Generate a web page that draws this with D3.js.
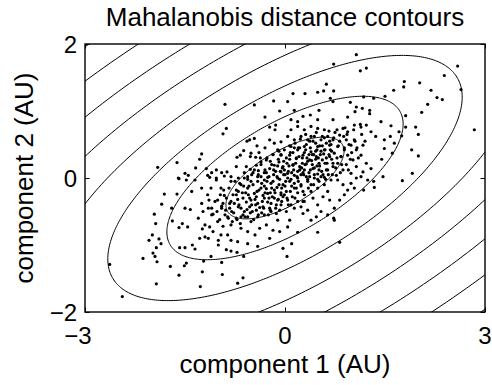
<!DOCTYPE html>
<html>
<head>
<meta charset="utf-8">
<script src="https://cdn.jsdelivr.net/npm/d3@7"></script>
<style>
  html, body { margin: 0; padding: 0; background: #fff; }
  svg { display: block; }
  text { font-family: "Liberation Sans", Arial, Helvetica, sans-serif; fill: #000; }
</style>
</head>
<body>
<svg id="chart" width="492" height="385"></svg>
<script>
// ---------- data ----------
const titleText = "Mahalanobis distance contours";
const xLabelText = "component 1 (AU)";
const yLabelText = "component 2 (AU)";
const xDomain = [-3, 3];
const yDomain = [-2, 2];
const xTicks = [-3, 0, 3];
const yTicks = [-2, 0, 2];
const contourLevels = [1, 2, 3, 4, 5, 6, 7, 8, 9, 10];
const centre = [0, 0];
const sigmaX = 0.886;
const sigmaY = 0.61;
const rho = 0.66;

const samplesUpperLeft = [[-0.90,1.10],[-0.46,1.09],[-0.17,1.15],[-0.08,1.00],[-0.30,0.91],[-0.23,0.76],[-0.14,0.79],[-0.15,0.72],[-0.88,0.74],[-0.93,0.66],[-0.06,0.54],[-0.57,0.55],[-0.53,0.57],[-0.46,0.59],[-0.42,0.48],[-0.30,0.45],[-0.62,0.41],[-0.67,0.34],[-0.72,0.31],[-0.52,0.32],[-0.51,0.37],[-0.44,0.31],[-0.39,0.38],[-1.25,0.36],[-1.28,0.28],[-1.62,0.23],[-1.91,0.16],[-1.34,0.15],[-1.50,0.07],[-1.45,0.04],[-1.59,-0.01],[-1.18,0.14],[-1.10,0.08],[-1.03,0.12],[-0.95,0.08],[-0.91,0.03],[-0.87,0.09],[-0.73,0.17],[-0.58,0.17],[-0.52,0.13],[-0.48,0.08],[-0.40,0.11],[-0.31,0.08],[-0.23,0.14],[-0.16,0.19],[-0.09,0.24],[-0.18,0.35],[-0.11,0.42],[-1.13,0.01],[-1.03,0.00],[-0.81,0.02],[-0.70,0.00],[-0.56,0.02],[-0.36,0.02],[-0.26,0.01],[-0.06,0.09],[-0.03,0.17],[-0.28,0.27],[-0.36,0.24],[-0.43,0.19],[-0.06,0.34],[-0.23,0.57],[-0.16,0.52]];

const samplesUpperRight = [[1.07,1.84],[0.73,1.70],[1.13,1.60],[1.22,1.64],[2.59,1.67],[2.39,1.53],[1.79,1.44],[1.78,1.36],[2.02,1.42],[0.62,1.40],[0.49,1.28],[0.58,1.30],[0.73,1.30],[0.12,1.26],[0.30,1.26],[1.63,1.31],[2.19,1.31],[2.64,1.32],[2.28,1.20],[2.36,1.17],[2.14,1.10],[2.05,0.98],[1.50,1.22],[1.33,1.19],[1.18,1.21],[0.98,1.13],[1.07,1.06],[1.16,1.04],[1.27,1.01],[1.05,0.99],[1.27,0.96],[0.72,1.14],[0.68,1.19],[0.04,1.14],[0.51,1.01],[0.27,0.92],[0.38,0.94],[0.14,1.01],[0.94,0.91],[0.72,0.87],[0.49,0.87],[0.19,0.84],[0.09,0.87],[1.44,0.84],[1.59,0.78],[1.81,0.93],[1.81,0.76],[1.96,0.76],[2.00,0.65],[2.84,0.72],[1.75,0.63],[1.71,0.69],[1.04,0.79],[1.14,0.76],[1.22,0.79],[1.29,0.69],[1.36,0.62],[1.49,0.57],[1.58,0.62],[1.64,0.52],[1.49,0.44],[1.61,0.37],[1.90,0.42],[2.00,0.33],[1.45,0.28],[1.91,0.07],[1.29,0.14],[1.22,0.22],[1.14,0.34],[1.07,0.42],[1.17,0.49],[1.04,0.57],[0.94,0.69],[0.87,0.74],[0.82,0.64],[0.92,0.57],[0.99,0.49],[0.94,0.34],[1.02,0.27],[1.07,0.17],[1.17,0.09],[0.99,0.07],[0.87,0.12],[0.79,0.22],[0.74,0.37],[0.79,0.47],[0.72,0.57],[0.64,0.62],[0.59,0.72],[0.49,0.74],[0.39,0.77],[0.29,0.72],[0.19,0.77],[0.09,0.72],[0.04,0.62],[0.14,0.57],[0.24,0.62],[0.34,0.57],[0.44,0.62],[0.54,0.57],[0.09,0.47],[0.19,0.42],[0.29,0.47],[0.39,0.39],[0.49,0.47],[0.59,0.42],[0.67,0.49],[0.07,0.34],[0.17,0.29],[0.27,0.34],[0.37,0.27],[0.47,0.32],[0.56,0.27],[0.67,0.32],[0.12,0.19],[0.22,0.17],[0.32,0.21],[0.42,0.14],[0.52,0.18],[0.62,0.12],[0.72,0.17],[0.04,0.07],[0.14,0.04],[0.27,0.08],[0.37,0.02],[0.49,0.06],[0.59,0.01],[0.77,0.04],[0.84,0.32],[0.89,0.42]];

const samplesLowerLeft = [[-1.60,0.00],[-1.48,-0.03],[-1.81,-0.24],[-1.62,-0.24],[-1.85,-0.39],[-1.96,-0.54],[-1.94,-0.68],[-1.99,-0.85],[-2.04,-0.93],[-1.89,-0.91],[-1.86,-0.98],[-1.93,-1.04],[-1.98,-1.12],[-1.95,-1.17],[-1.92,-1.25],[-2.13,-1.20],[-2.63,-1.29],[-2.44,-1.77],[-1.93,-1.58],[-1.72,-1.32],[-1.59,-1.45],[-1.51,-1.31],[-1.48,-1.27],[-1.27,-1.62],[-1.24,-1.40],[-1.22,-1.24],[-1.11,-1.17],[-0.95,-1.26],[-0.94,-1.44],[-0.71,-1.57],[-0.63,-1.49],[-0.62,-1.17],[-0.72,-1.11],[-0.81,-1.09],[-0.88,-1.07],[-1.39,-1.00],[-1.50,-1.04],[-1.58,-1.04],[-1.35,-1.06],[-1.28,-0.90],[-1.20,-0.88],[-1.15,-0.90],[-1.00,-0.93],[-1.00,-1.00],[-0.96,-0.85],[-0.86,-0.85],[-0.81,-0.93],[-0.71,-0.95],[-0.56,-0.98],[-0.41,-1.02],[-0.03,-1.05],[-1.59,-0.74],[-1.54,-0.68],[-1.46,-0.73],[-1.50,-0.45],[-1.42,-0.47],[-1.69,-0.64],[-1.30,-0.60],[-1.24,-0.76],[-1.13,-0.73],[-1.01,-0.65],[-1.08,-0.54],[-1.23,-0.50],[-1.25,-0.38],[-1.14,-0.33],[-1.16,-0.25],[-1.11,-0.15],[-1.03,-0.03],[-0.96,-0.15],[-0.91,-0.26],[-0.95,-0.45],[-0.86,-0.58],[-0.81,-0.70],[-0.73,-0.60],[-0.66,-0.75],[-0.56,-0.80],[-0.45,-0.85],[-0.38,-0.75],[-0.28,-0.70],[-0.18,-0.78],[-0.08,-0.80],[-0.23,-0.90],[-0.11,-0.63],[-0.51,-0.65],[-0.41,-0.58],[-0.31,-0.55],[-0.21,-0.50],[-0.08,-0.48],[-0.81,-0.05],[-0.73,-0.18],[-0.66,-0.10],[-0.81,-0.35],[-0.70,-0.43],[-0.61,-0.50],[-0.83,-0.45],[-0.01,-0.25],[-1.16,0.04],[-1.35,-0.03],[-1.25,-0.15],[-1.40,-0.20],[-1.70,-0.45],[-1.10,-0.45],[-1.01,-0.33],[-0.93,-0.38],[-0.61,0.00],[-0.51,-0.05],[-0.41,0.02],[-0.31,-0.03],[-0.21,-0.08],[-0.11,0.00],[-0.03,-0.10],[-0.56,-0.15],[-0.46,-0.23],[-0.36,-0.15],[-0.26,-0.23],[-0.16,-0.18],[-0.06,-0.25],[-0.51,-0.33],[-0.41,-0.38],[-0.31,-0.30],[-0.21,-0.38],[-0.11,-0.33],[-0.73,-0.25],[-0.63,-0.30],[-0.53,-0.43],[-0.43,-0.48],[-0.33,-0.43],[-0.23,-0.45],[-0.13,-0.53],[-0.06,-0.40],[-0.66,-0.58],[-0.56,-0.58]];

const samplesLowerRight = [[1.47,0.02],[1.76,-0.04],[1.33,-0.05],[1.34,-0.14],[1.24,-0.03],[1.18,-0.18],[1.07,0.00],[0.99,-0.08],[1.04,-0.15],[0.94,-0.18],[0.87,-0.10],[0.79,-0.03],[0.89,-0.25],[0.82,-0.33],[0.64,-0.20],[0.67,-0.33],[0.74,-0.45],[0.64,-0.55],[0.73,-0.60],[0.74,-0.63],[0.49,-0.40],[0.54,-0.50],[0.47,-0.58],[0.39,-0.63],[0.49,-0.81],[0.34,-0.48],[0.27,-0.53],[0.24,-0.43],[0.19,-0.35],[0.14,-0.45],[0.09,-0.40],[0.04,-0.33],[0.02,-0.50],[0.07,-0.63],[0.04,-0.73],[0.19,-0.81],[0.10,-0.98],[0.03,-1.17],[0.82,-0.96],[0.29,-0.25],[0.39,-0.20],[0.49,-0.15],[0.59,-0.10],[0.69,-0.03],[0.14,-0.15],[0.24,-0.10],[0.34,-0.05],[0.44,0.00],[0.54,0.02],[0.07,-0.05],[0.19,0.00],[0.29,-0.35],[0.42,-0.30],[0.57,-0.28],[1.14,0.02]];

const samplesCore = [[-0.95,-0.42],[-0.88,-0.30],[-0.80,-0.50],[-0.76,-0.38],[-0.70,-0.20],[-0.66,-0.45],[-0.62,-0.12],[-0.58,-0.36],[-0.55,-0.25],[-0.52,-0.52],[-0.48,-0.10],[-0.45,-0.32],[-0.42,-0.20],[-0.40,0.05],[-0.38,-0.44],[-0.35,-0.08],[-0.33,-0.26],[-0.30,0.12],[-0.28,-0.16],[-0.26,-0.36],[-0.24,0.02],[-0.22,-0.22],[-0.20,0.20],[-0.18,-0.05],[-0.16,-0.30],[-0.14,0.10],[-0.12,-0.14],[-0.10,0.28],[-0.08,-0.02],[-0.06,-0.22],[-0.04,0.15],[-0.02,0.05],[0.00,-0.12],[0.02,0.30],[0.04,0.00],[0.06,0.18],[0.08,-0.20],[0.10,0.08],[0.12,0.38],[0.14,-0.08],[0.16,0.22],[0.18,0.02],[0.20,0.45],[0.22,0.12],[0.24,-0.12],[0.26,0.30],[0.28,0.05],[0.30,0.20],[0.32,0.50],[0.34,-0.02],[0.36,0.35],[0.38,0.12],[0.40,0.26],[0.42,0.55],[0.44,0.05],[0.46,0.40],[0.48,0.18],[0.50,0.30],[0.52,0.48],[0.55,0.10],[0.58,0.36],[0.60,0.22],[0.62,0.52],[0.65,0.05],[0.68,0.42],[0.70,0.28],[0.73,0.60],[0.76,0.15],[0.80,0.48],[0.84,0.32],[0.88,0.62],[0.92,0.20],[0.96,0.50],[1.00,0.38],[-1.10,-0.55],[-1.05,-0.35],[-0.98,-0.62],[-0.92,-0.18],[-0.85,-0.60],[-0.78,-0.25],[-0.72,-0.62],[-0.68,-0.08],[-0.60,-0.58],[-0.56,-0.02],[-0.50,-0.40],[-0.46,0.12],[-0.40,-0.55],[-0.36,0.20],[-0.32,-0.45],[-0.27,0.30],[-0.22,-0.48],[-0.18,0.35],[-0.13,-0.40],[-0.09,0.40],[-0.05,-0.35],[-0.01,0.42],[0.03,-0.30],[0.07,0.48],[0.11,-0.28],[0.15,0.52],[0.19,-0.22],[0.23,0.58],[0.27,-0.20],[0.31,0.65],[0.35,-0.15],[0.39,0.62],[0.43,-0.10],[0.47,0.68],[0.51,-0.05],[0.56,0.62],[0.61,-0.02],[0.66,0.70],[0.71,0.05],[0.78,0.72],[0.83,0.08],[0.90,0.75],[0.95,0.12],[1.05,0.55],[1.10,0.30],[1.15,0.65]];

const samplesCoreDense = [[-1.20,-0.70],[-1.15,-0.45],[-1.08,-0.80],[-1.02,-0.50],[-0.97,-0.25],[-0.93,-0.72],[-0.89,-0.48],[-0.84,-0.15],[-0.79,-0.65],[-0.75,-0.05],[-0.71,-0.32],[-0.67,-0.68],[-0.64,-0.22],[-0.61,0.08],[-0.57,-0.47],[-0.54,-0.12],[-0.50,0.05],[-0.47,-0.62],[-0.44,-0.40],[-0.41,-0.05],[-0.37,0.30],[-0.34,-0.35],[-0.31,-0.12],[-0.28,0.08],[-0.25,-0.55],[-0.22,0.25],[-0.19,-0.28],[-0.17,0.05],[-0.14,-0.45],[-0.11,0.18],[-0.09,-0.10],[-0.06,0.35],[-0.03,-0.28],[-0.01,0.12],[0.01,-0.05],[0.03,0.22],[0.05,-0.40],[0.08,0.38],[0.10,-0.12],[0.13,0.12],[0.15,-0.30],[0.17,0.30],[0.20,-0.05],[0.22,0.45],[0.25,0.15],[0.27,-0.35],[0.29,0.38],[0.32,0.02],[0.34,0.25],[0.37,0.55],[0.39,-0.10],[0.41,0.35],[0.44,0.15],[0.46,0.52],[0.49,-0.02],[0.51,0.22],[0.54,0.40],[0.57,0.05],[0.59,0.60],[0.62,0.30],[0.64,0.12],[0.67,0.55],[0.70,0.40],[0.72,0.22],[0.75,0.68],[0.78,0.30],[0.82,0.55],[0.85,0.20],[0.89,0.45],[0.93,0.65],[0.98,0.28],[1.03,0.72],[1.08,0.45],[1.13,0.80],[1.20,0.55],[-0.90,-0.55],[-0.83,-0.38],[-0.77,-0.52],[-0.69,-0.40],[-0.63,-0.55],[-0.59,-0.22],[-0.53,-0.30],[-0.49,-0.50],[-0.43,-0.28],[-0.39,-0.18],[-0.35,-0.52],[-0.30,-0.22],[-0.27,-0.05],[-0.24,-0.30],[-0.20,-0.15],[-0.17,0.12],[-0.15,-0.22],[-0.12,0.02],[-0.10,-0.32],[-0.07,0.10],[-0.05,-0.15],[-0.02,0.25],[0.00,0.05],[0.02,-0.20],[0.05,0.10],[0.07,0.28],[0.09,-0.02],[0.12,0.20],[0.14,0.45],[0.17,-0.15],[0.19,0.10],[0.21,0.32],[0.24,0.05],[0.26,0.22],[0.29,0.12],[0.31,0.42],[0.33,0.30],[0.36,0.08],[0.38,0.45],[0.41,0.20],[0.43,0.35],[0.46,0.28],[0.48,0.42],[0.51,0.12],[0.53,0.35],[0.56,0.48],[0.60,0.42],[0.63,0.22],[0.66,0.35],[0.69,0.50]];

const samples = [].concat(samplesUpperLeft, samplesUpperRight, samplesLowerLeft, samplesLowerRight, samplesCore, samplesCoreDense);

// ---------- layout ----------
const W = 492, H = 385;
const margin = { left: 85, right: 7, top: 44, bottom: 73 };
const plotW = W - margin.left - margin.right;
const plotH = H - margin.top - margin.bottom;

const svg = d3.select("#chart");
const x = d3.scaleLinear().domain(xDomain).range([margin.left, margin.left + plotW]);
const y = d3.scaleLinear().domain(yDomain).range([margin.top + plotH, margin.top]);

svg.append("defs").append("clipPath").attr("id", "plotclip")
  .append("rect").attr("x", margin.left).attr("y", margin.top)
  .attr("width", plotW).attr("height", plotH);

const g = svg.append("g").attr("clip-path", "url(#plotclip)");

// contours (Mahalanobis distance ellipses)
const theta = d3.range(0, 2 * Math.PI + 0.001, Math.PI / 180);
const c21 = rho * sigmaY, c22 = sigmaY * Math.sqrt(1 - rho * rho);
const line = d3.line().x(d => x(d[0])).y(d => y(d[1])).curve(d3.curveLinearClosed);
g.selectAll("path.contour").data(contourLevels).join("path")
  .attr("class", "contour")
  .attr("d", lev => line(theta.map(t => [
    centre[0] + lev * sigmaX * Math.cos(t),
    centre[1] + lev * (c21 * Math.cos(t) + c22 * Math.sin(t))
  ])))
  .attr("fill", "none").attr("stroke", "#000").attr("stroke-width", 1);

// samples
g.selectAll("circle").data(samples).join("circle")
  .attr("cx", d => x(d[0])).attr("cy", d => y(d[1]))
  .attr("r", 1.6).attr("fill", "#000");

// frame
svg.append("rect").attr("x", margin.left).attr("y", margin.top)
  .attr("width", plotW).attr("height", plotH)
  .attr("fill", "none").attr("stroke", "#000").attr("stroke-width", 1.4);

// ticks (inward, MATLAB style)
const tl = 4.5;
const axB = d3.axisBottom(x).tickValues(xTicks).tickSize(-tl).tickFormat("");
const axT = d3.axisTop(x).tickValues(xTicks).tickSize(-tl).tickFormat("");
const axL = d3.axisLeft(y).tickValues(yTicks).tickSize(-tl).tickFormat("");
const axR = d3.axisRight(y).tickValues(yTicks).tickSize(-tl).tickFormat("");
[[axB, `translate(0,${margin.top + plotH})`], [axT, `translate(0,${margin.top})`],
 [axL, `translate(${margin.left},0)`], [axR, `translate(${margin.left + plotW},0)`]].forEach(([ax, tr]) => {
  const a = svg.append("g").attr("transform", tr).call(ax);
  a.select(".domain").remove();
  a.selectAll("line").attr("stroke", "#000").attr("stroke-width", 1);
});

const fmt = v => (v < 0 ? "\u2212" : "") + Math.abs(v);
const tickFont = 24;

// x tick labels: digits centred on the tick, minus sign hanging left
xTicks.forEach(v => {
  const t = svg.append("text").attr("y", margin.top + plotH + 32)
    .attr("font-size", tickFont).text(fmt(v));
  if (v < 0) {
    t.attr("x", x(v) + 6.7).attr("text-anchor", "end");
  } else {
    t.attr("x", x(v)).attr("text-anchor", "middle");
  }
});

// y tick labels
yTicks.forEach(v => {
  svg.append("text").attr("x", margin.left - 8).attr("y", y(v) + 8.5)
    .attr("text-anchor", "end").attr("font-size", tickFont).text(fmt(v));
});

// axis labels and title
svg.append("text").attr("x", margin.left + plotW / 2).attr("y", 373)
  .attr("text-anchor", "middle").attr("font-size", 26).text(xLabelText);
svg.append("text").attr("transform", `translate(33,${margin.top + plotH / 2}) rotate(-90)`)
  .attr("text-anchor", "middle").attr("font-size", 26).text(yLabelText);
svg.append("text").attr("x", margin.left + plotW / 2).attr("y", 26)
  .attr("text-anchor", "middle").attr("font-size", 26).text(titleText);
</script>
</body>
</html>
